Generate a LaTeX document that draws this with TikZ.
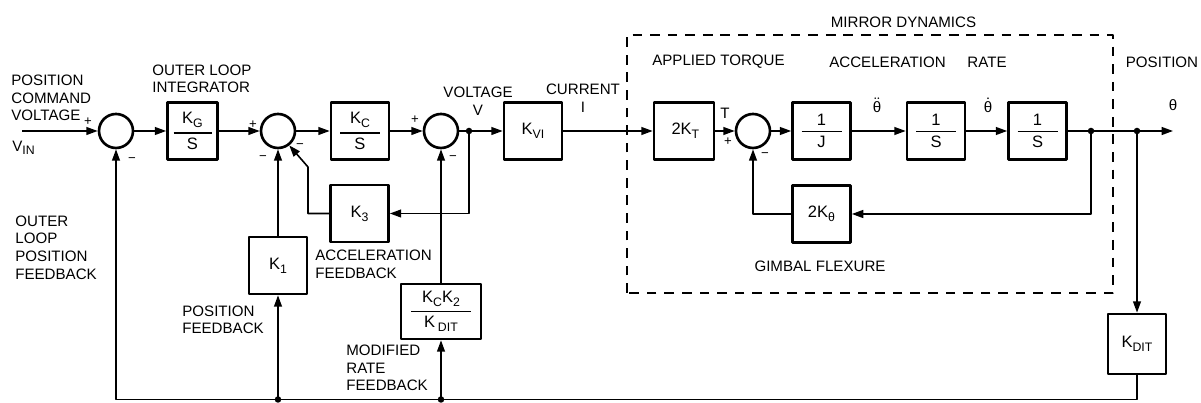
\documentclass[tikz,border=0pt]{standalone}
\usepackage{amsmath}
\usepackage{fontspec}
\setmainfont{Liberation Sans}
\usetikzlibrary{arrows.meta}

% нижний индекс в тексте
\newcommand{\lsub}[1]{\raisebox{-0.45ex}{\fontsize{7}{8}\selectfont #1}}
% дробь внутри блока
\newcommand{\blkfrac}[3][0.8cm]{$\genfrac{}{}{0.8pt}{0}{\makebox[#1]{#2}}{\mbox{#3}}$}

\begin{document}
\begin{tikzpicture}[
    line join=round,
    conn/.style={
        line width=0.9pt
    },
    arr/.style={
        conn,
        -{Triangle[length=6.5pt,width=4.5pt]}
    },
    block/.style={
        draw,
        line width=1.5pt,
        minimum width=1.16cm,
        minimum height=1.14cm,
        inner sep=1pt,
        font=\fontsize{9.4}{11}\selectfont
    },
    sumj/.style={
        draw,
        circle,
        line width=1.5pt,
        minimum size=0.68cm,
        inner sep=0pt
    },
    mirror/.style={
        line width=1.4pt,
        dash pattern=on 5.5pt off 4.5pt
    },
    lbl/.style={
        inner sep=0pt,
        align=left
    },
    sgn/.style={
        inner sep=0pt,
        font=\fontsize{7.5}{8}\selectfont
    },
    every node/.style={
        font=\fontsize{8.6}{10}\selectfont
    }
]

\useasboundingbox (0,0) rectangle (24.02,8.06);

% =================================================
% Прямая цепь
% =================================================

\coordinate (vin) at (0.44,5.44);
\node[sumj] (s1) at (2.32,5.44) {};
\node[block, minimum width=1.0cm] (kg) at (3.85,5.44) {\blkfrac[0.76cm]{K\lsub{G}}{S}};
\node[sumj] (s2) at (5.56,5.44) {};
\node[block] (kc) at (7.2,5.44) {\blkfrac{K\lsub{C}}{S}};
\node[sumj] (s3) at (8.82,5.44) {};
\coordinate (dv) at (9.38,5.44);
\node[block] (kvi) at (10.66,5.44) {K\lsub{VI}};
\node[block, minimum width=1.2cm] (kt) at (13.68,5.44) {\,2K\lsub{T}};
\node[sumj] (s4) at (15.06,5.44) {};
\node[block] (kj) at (16.43,5.44) {\blkfrac{1}{J}};
\node[block] (is1) at (18.72,5.44) {\blkfrac{1}{S}};
\node[block] (is2) at (20.75,5.44) {\blkfrac{1}{S}};
\coordinate (dp1) at (21.82,5.44);
\coordinate (dp2) at (22.74,5.44);
\coordinate (out) at (23.46,5.44);

% =================================================
% Обратные связи
% =================================================

\node[block] (k3) at (7.19,3.79) {K\lsub{3}};
\node[block] (k1) at (5.56,2.75) {K\lsub{1}};
\node[block, minimum width=1.6cm, minimum height=1.1cm] (kk) at (8.82,1.83)
    {\blkfrac[1.2cm]{K\lsub{C}K\lsub{2}}{K\,\lsub{DIT}}};
\node[block] (kth) at (16.43,3.78) {2K\lsub{θ}};
\node[block, minimum height=1.2cm] (kdit) at (22.74,1.18) {K\lsub{DIT}};

\coordinate (bl) at (2.32,0.07);
\coordinate (db1) at (5.56,0.07);
\coordinate (db2) at (8.82,0.07);
\coordinate (kbend) at (6.16,4.72);

% =================================================
% Соединения
% =================================================

\draw[arr] (vin) -- (s1.west);
\draw[arr] (s1.east) -- (kg.west);
\draw[arr] (kg.east) -- (s2.west);
\draw[arr] (s2.east) -- (kc.west);
\draw[arr] (kc.east) -- (s3.west);
\draw[arr] (s3.east) -- (dv) -- (kvi.west);
\draw[arr] (kvi.east) -- (kt.west);
\draw[arr] (kt.east) -- (s4.west);
\draw[arr] (s4.east) -- (kj.west);
\draw[arr] (kj.east) -- (is1.west);
\draw[arr] (is1.east) -- (is2.west);
\draw[arr] (is2.east) -- (out);

\draw[arr] (dv) |- (k3.east);
\draw[arr] (k3.west) -| (kbend) -- (s2.-52);

\draw[arr] (dp1) |- (kth.east);
\draw[arr] (kth.west) -| (s4.south);

\draw[arr] (dp2) -- (kdit.north);
\draw[arr] (kdit.south) |- (bl) -- (s1.south);
\draw[arr] (db1) -- (k1.south);
\draw[arr] (db2) -- (kk.south);
\draw[arr] (k1.north) -- (s2.south);
\draw[arr] (kk.north) -- (s3.south);

\foreach \p in {dv,dp1,dp2,db1,db2}
    \fill (\p) circle (0.065);

% Динамика зеркала
\draw[mirror] (12.54,2.2) rectangle (22.26,7.36);

% =================================================
% Подписи
% =================================================

\node[lbl, anchor=west] (tpcv) at (0.22,6.1) {POSITION\\COMMAND\\VOLTAGE};
\node[lbl, anchor=west] (tvin) at (0.24,5.1) {V\lsub{IN}};
\node[lbl, anchor=west] (toli) at (3.04,6.48) {OUTER LOOP\\INTEGRATOR};
\node[lbl, anchor=west] (tolp) at (0.3,3.11) {OUTER\\LOOP\\POSITION\\FEEDBACK};
\node[lbl, anchor=west] (tpf) at (3.64,1.66) {POSITION\\FEEDBACK};
\node[lbl, anchor=west] (taf) at (6.3,2.77) {ACCELERATION\\FEEDBACK};
\node[lbl, anchor=west] (tmrf) at (6.92,0.7) {MODIFIED\\RATE\\FEEDBACK};
\node[lbl, align=center] (tvolt) at (9.56,6.04) {VOLTAGE\\V};
\node[lbl, align=center] (tcur) at (11.66,6.09) {CURRENT\\I};
\node[lbl] (tmd) at (18.07,7.62) {MIRROR DYNAMICS};
\node[lbl] (tat) at (14.37,6.82) {APPLIED TORQUE};
\node[lbl] (tacc) at (17.75,6.82) {ACCELERATION};
\node[lbl] (trate) at (19.74,6.82) {RATE};
\node[lbl] (tpos) at (23.24,6.82) {POSITION};
\node[lbl] (tgf) at (16.4,2.74) {GIMBAL FLEXURE};
\node[lbl] (tT) at (14.5,5.8) {T};
\node[lbl] (tacc2) at (17.54,5.95) {$\ddot{\mbox{θ}}$};
\node[lbl] (trate2) at (19.76,5.95) {$\dot{\mbox{θ}}$};
\node[lbl] (tth) at (23.46,5.96) {θ};

% Знаки сумматоров
\node[sgn] (p1) at (1.76,5.62) {+};
\node[sgn] (m1) at (2.64,4.86) {−};
\node[sgn] (p2) at (5.06,5.56) {+};
\node[sgn] (m2a) at (5.26,4.9) {−};
\node[sgn] (m2b) at (6.0,5.14) {−};
\node[sgn] (p3) at (8.3,5.66) {+};
\node[sgn] (m3) at (9.06,4.9) {−};
\node[sgn] (p4) at (14.56,5.22) {+};
\node[sgn] (m4) at (15.3,4.96) {−};

\end{tikzpicture}
\end{document}
